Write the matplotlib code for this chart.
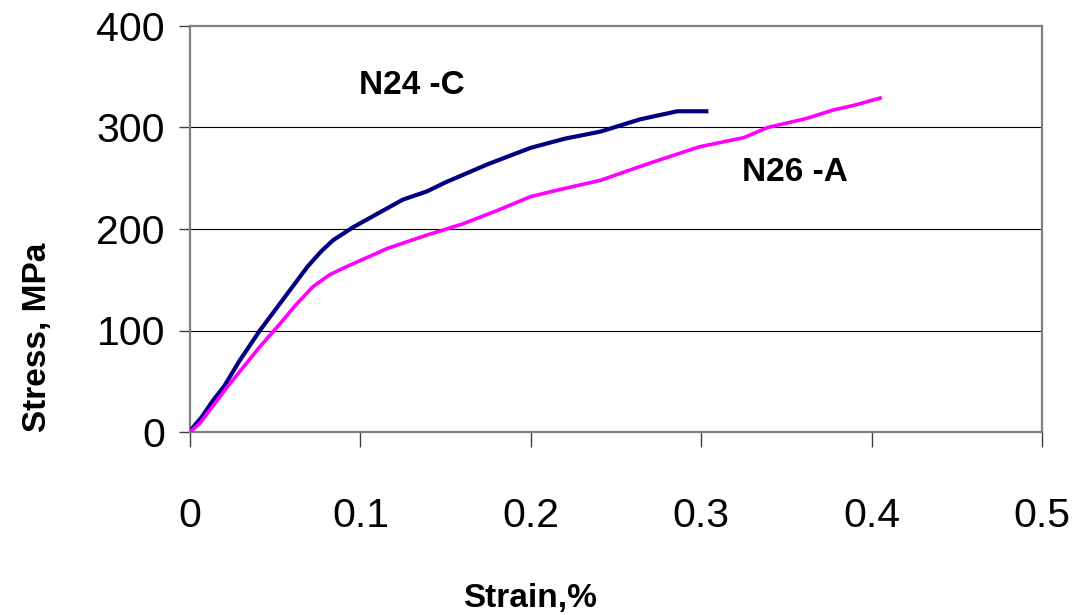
import matplotlib
matplotlib.use("Agg")
import matplotlib.pyplot as plt

plt.rcParams['font.family'] = ['Liberation Sans', 'DejaVu Sans']

# N24 -C curve (strain %, stress MPa)
strain_c = [0, 0.002, 0.007, 0.0135, 0.02, 0.029, 0.041, 0.053, 0.061, 0.069,
            0.077, 0.084, 0.096, 0.111, 0.125, 0.139, 0.15, 0.175, 0.2, 0.22,
            0.241, 0.264, 0.286, 0.303]
stress_c = [0, 5, 15, 31, 45, 70, 100, 127, 145, 163,
            178, 189, 202, 216, 229, 237, 246, 264, 280, 289,
            296, 308, 316, 316]

# N26 -A curve
strain_a = [0, 0.006, 0.0217, 0.041, 0.053, 0.062, 0.072, 0.082, 0.092, 0.1,
            0.116, 0.139, 0.16, 0.18, 0.2, 0.22, 0.241, 0.27, 0.299, 0.325,
            0.339, 0.362, 0.377, 0.39, 0.405]
stress_a = [0, 9, 44, 84, 107, 125, 143, 155, 163, 169,
            181, 194, 205, 218, 232, 240, 248, 265, 281, 290,
            300, 309, 317, 322, 329]

xticks = [0, 0.1, 0.2, 0.3, 0.4, 0.5]
xtick_labels = ['0', '0.1', '0.2', '0.3', '0.4', '0.5']
yticks = [0, 100, 200, 300, 400]

fig = plt.figure(figsize=(10.77, 6.15), dpi=100)
ax = fig.add_axes([190 / 1077, 1 - 432 / 615, 852 / 1077, 406 / 615])

ax.plot(strain_c, stress_c, color='#000080', lw=3.0, zorder=3)
ax.plot(strain_a, stress_a, color='#FF00FF', lw=2.6, zorder=3)

ax.set_xlim(0, 0.5)
ax.set_ylim(0, 400)
ax.set_xticks(xticks)
ax.set_xticklabels(xtick_labels)
ax.set_yticks(yticks)

for y in [100, 200, 300]:
    ax.axhline(y, color='black', lw=0.8, zorder=1)

for s in ax.spines.values():
    s.set_color('#808080')
    s.set_linewidth(1.6)

ax.tick_params(axis='x', direction='out', length=11, width=1, color='#404040',
               pad=36, labelsize=29.5)
ax.tick_params(axis='y', direction='out', length=8, width=1, color='#404040',
               pad=10, labelsize=29.5)

ax.text(0.0992, 341, 'N24 -C', fontsize=24, fontweight='bold', va='center')
ax.text(0.324, 256, 'N26 -A', fontsize=24, fontweight='bold', va='center')

fig.text(38 / 1077, 1 - 337 / 615, 'Stress, MPa', rotation=90, fontsize=24,
         fontweight='bold', ha='center', va='center')
fig.text(530 / 1077, 1 - 598 / 615, 'Strain,%', fontsize=24,
         fontweight='bold', ha='center', va='center')

fig.savefig('out.png', dpi=100)
